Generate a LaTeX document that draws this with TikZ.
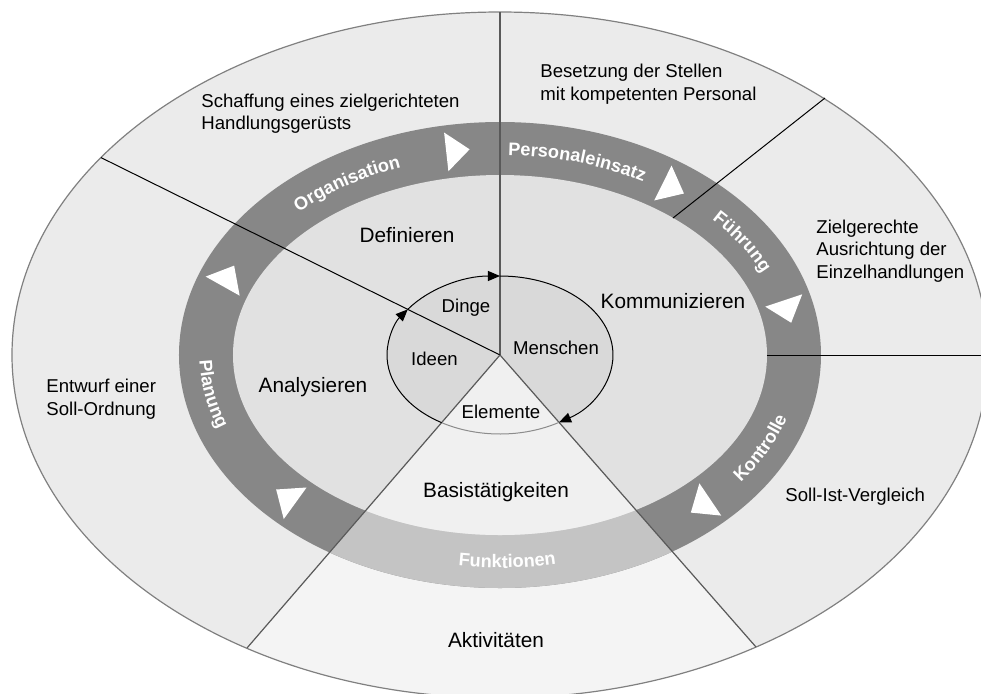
\documentclass[tikz,border=0pt]{standalone}
\usepackage{fontspec}
\setmainfont{Liberation Sans}
\usetikzlibrary{arrows.meta,decorations.text}
\definecolor{outerfill}{HTML}{EBEBEB}
\definecolor{outerlow}{HTML}{F4F4F4}
\definecolor{bandfill}{HTML}{878787}
\definecolor{bandlow}{HTML}{C4C4C4}
\definecolor{midfill}{HTML}{E1E1E1}
\definecolor{midlow}{HTML}{F0F0F0}
\definecolor{corefill}{HTML}{D9D9D9}
\newcommand{\smalltxt}{\fontsize{9.3}{11.3}\selectfont}
\newcommand{\bigtxt}{\fontsize{10.4}{12.5}\selectfont}
\newcommand{\bandfont}{\fontsize{9.1}{10}\selectfont\bfseries}

\begin{document}
\begin{tikzpicture}[x=0.5pt,y=0.5pt,
		every node/.style={inner sep=0pt,font=\smalltxt},
		side/.style={align=left,anchor=west},
		verb/.style={font=\bigtxt},
		divider/.style={line width=0.5pt,black},
		softdivider/.style={line width=0.6pt,black!65},
		flow/.style={line width=0.5pt,-{Triangle[length=6pt,width=5pt]}},
		bandlabel/.style={decorate,decoration={text along path,text align=center,text color=white,text={|\bandfont|#1}}}]
		\useasboundingbox (-500,-338) rectangle (481,355);
		\fill[white] (-500,-338) rectangle (481,355);
		\clip (-500,-338) rectangle (481,355);
		\coordinate (ctr) at (0,0);
		\coordinate (llFar) at (-506,-586);
		\coordinate (lrFar) at (512,-584);
		\foreach \rx/\ry/\base/\low in {488/343/outerfill/outerlow,321/233/bandfill/bandlow,267/180/midfill/midlow,113/79/corefill/midlow}{
			\fill[\base] (ctr) ellipse [x radius=\rx,y radius=\ry];
			\begin{scope}
				\clip (ctr) ellipse [x radius=\rx,y radius=\ry];
				\fill[\low] (ctr) -- (llFar) -- (lrFar) -- cycle;
			\end{scope}
		}
		\draw[black!50,line width=0.6pt] (ctr) ellipse [x radius=488,y radius=343];
		\coordinate (topEnd) at (0,343);
		\coordinate (ulEnd) at (-399,197.4);
		\coordinate (urStart) at (173,137);
		\coordinate (urEnd) at (325,257);
		\coordinate (rStart) at (267,0);
		\coordinate (rEnd) at (490,0);
		\coordinate (lrEnd) at (256,-292);
		\coordinate (llEnd) at (-253,-293);
		\draw[softdivider] (ctr) -- (topEnd);
		\draw[divider] (ctr) -- (ulEnd);
		\draw[divider] (urStart) -- (urEnd);
		\draw[divider] (rStart) -- (rEnd);
		\draw[softdivider] (ctr) -- (lrEnd);
		\draw[softdivider] (ctr) -- (llEnd);
		\coordinate (kLL) at (238.9:113 and 79);
		\coordinate (kUL) at (144.7:113 and 79);
		\coordinate (kT) at (90:113 and 79);
		\draw[black!45,line width=0.5pt] (kLL) arc[start angle=238.9,end angle=301.5,x radius=113,y radius=79];
		\draw[flow] (kLL) arc[start angle=238.9,end angle=144.7,x radius=113,y radius=79];
		\draw[flow] (kUL) arc[start angle=144.7,end angle=90,x radius=113,y radius=79];
		\draw[flow] (kT) arc[start angle=90,end angle=-58.5,x radius=113,y radius=79];
		\foreach \t in {99,54.7,13.2,-46.1,224.1,158.5}{
			\pgfmathsetmacro\dir{atan2(-206.5*cos(\t),294*sin(\t))}
			\fill[white,shift={(\t:294 and 206.5)},rotate=\dir] (15.7,0) -- (-7.8,19.5) -- (-7.8,-19.5) -- cycle;
		}
		\path[bandlabel=Organisation] (154:287.5 and 200) arc[start angle=154,end angle=94,x radius=287.5,y radius=200];
		\path[bandlabel=Personaleinsatz] (108:287.5 and 200) arc[start angle=108,end angle=38,x radius=287.5,y radius=200];
		\path[bandlabel=Führung] (61:287.5 and 200) arc[start angle=61,end angle=1,x radius=287.5,y radius=200];
		\path[bandlabel=Kontrolle] (-55:300.5 and 213) arc[start angle=-55,end angle=5,x radius=300.5,y radius=213];
		\path[bandlabel=Funktionen] (-118.5:300.5 and 213) arc[start angle=-118.5,end angle=-58.5,x radius=300.5,y radius=213];
		\path[bandlabel=Planung] (160:300.5 and 213) arc[start angle=160,end angle=220,x radius=300.5,y radius=213];
		\node[side] (orgGoal) at (-299,241.5) {Schaffung eines zielgerichteten\\Handlungsgerüsts};
		\node[side] (staffGoal) at (40,271) {Besetzung der Stellen\\mit kompetenten Personal};
		\node[side] (leadGoal) at (316,104) {Zielgerechte\\Ausrichtung der\\Einzelhandlungen};
		\node[side] (planGoal) at (-454,-44) {Entwurf einer\\Soll-Ordnung};
		\node[side] (ctrlGoal) at (285,-142) {Soll-Ist-Vergleich};
		\node[verb] (acts) at (-4,-285) {Aktivitäten};
		\node[verb] (basics) at (-4,-137) {Basistätigkeiten};
		\node[verb] (define) at (-93,120) {Definieren};
		\node[verb] (talk) at (173,54) {Kommunizieren};
		\node[verb] (analyse) at (-187,-32) {Analysieren};
		\node (things) at (-34,47) {Dinge};
		\node (ideas) at (-65.5,-4) {Ideen};
		\node (people) at (56,7) {Menschen};
		\node (elements) at (1,-57) {Elemente};
	\end{tikzpicture}
\end{document}
